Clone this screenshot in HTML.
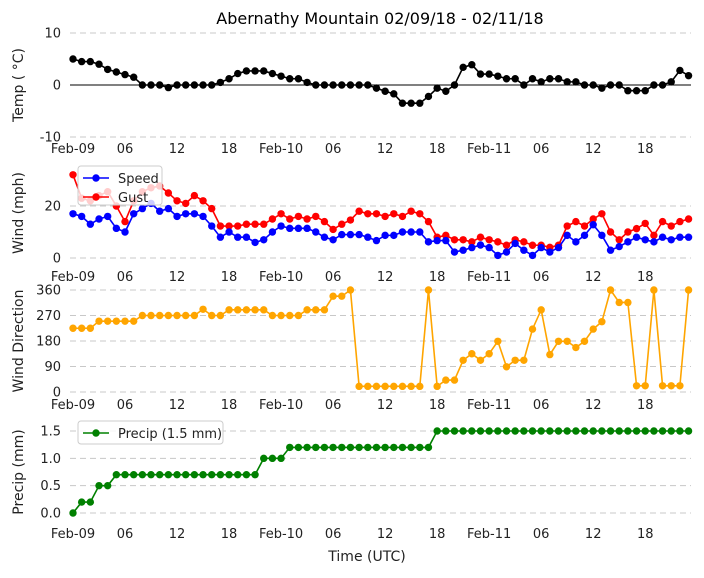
<!DOCTYPE html>
<html><head><meta charset="utf-8"><style>
body{margin:0;background:#fff;font-family:"Liberation Sans","DejaVu Sans",sans-serif;}
svg text{font-family:"DejaVu Sans","Liberation Sans",sans-serif;}
</style></head><body>
<svg id="chart" width="704" height="573" xmlns="http://www.w3.org/2000/svg"></svg>
<script>
const hours = Array.from({length:72},(_,i)=>i);
const xTickHours = [0,6,12,18,24,30,36,42,48,54,60,66];
const xTickLabels = ["Feb-09","06","12","18","Feb-10","06","12","18","Feb-11","06","12","18"];
const tempValues = [5,4.5,4.5,4,3,2.5,2,1.5,0,0,0,-0.5,0,0,0,0,0,0.5,1.2,2.2,2.7,2.7,2.7,2.2,1.7,1.2,1.2,0.5,0,0,0,0,0,0,0,-0.6,-1.2,-1.7,-3.5,-3.5,-3.5,-2.2,-0.6,-1.2,0,3.4,3.9,2.1,2.1,1.7,1.2,1.2,0,1.2,0.6,1.2,1.2,0.6,0.6,0,0,-0.6,0,0,-1.1,-1.1,-1.1,0,0,0.6,2.8,1.8];
const speedValues = [17,16,13,15,16,11.4,10,17,19,21,18,19,16,17,17,16,12.3,8,10,8,8,6,7,10,12.3,11.4,11.4,11.4,10,8,7,9,9,9,8,6.7,8.7,8.7,10,10,10,6.2,6.7,6.7,2.3,3,4,5,4,1,2.3,5.6,3,1,4,2.3,4,8.7,6.2,8.7,12.8,8.7,3,4.4,6.2,8,7,6.2,8,7,8,8];
const gustValues = [32,23,22,24,25.5,20,14,22,25.5,27,27.7,25,22,21,24,22,19,12.3,12.3,12.3,13,13,13,15,17,15,16,15,16,14,11,13,14.6,18,17,17,16,17,16,18,17,14,8,8.7,7,7,6.2,8,7,6.2,4.9,7,6.2,4.9,4.9,4.1,4.9,12.3,14,12.3,15,17,10,7,10,11.3,13.3,8.7,14,12.3,14,15];
const dirValues = [225,225,225,250,250,250,250,250,270,270,270,270,270,270,270,292,270,270,290,290,290,290,290,270,270,270,270,290,290,290,338,338,360,20,20,20,20,20,20,20,20,360,20,42,42,112,135,112,135,179,89,112,112,222,290,132,179,179,157,179,222,248,360,316,316,22,22,360,22,22,22,360];
const precipValues = [0,0.2,0.2,0.5,0.5,0.7,0.7,0.7,0.7,0.7,0.7,0.7,0.7,0.7,0.7,0.7,0.7,0.7,0.7,0.7,0.7,0.7,1.0,1.0,1.0,1.2,1.2,1.2,1.2,1.2,1.2,1.2,1.2,1.2,1.2,1.2,1.2,1.2,1.2,1.2,1.2,1.2,1.5,1.5,1.5,1.5,1.5,1.5,1.5,1.5,1.5,1.5,1.5,1.5,1.5,1.5,1.5,1.5,1.5,1.5,1.5,1.5,1.5,1.5,1.5,1.5,1.5,1.5,1.5,1.5,1.5,1.5];
const tempTicks=[-10,0,10], windTicks=[0,20], dirTicks=[0,90,180,270,360], precipTicks=[0,0.5,1,1.5];
const precipTickLabels=["0.0","0.5","1.0","1.5"];

const svg=document.getElementById('chart');
const NS="http://www.w3.org/2000/svg";
function mk(tag,attrs,parent){const e=document.createElementNS(NS,tag);for(const k in attrs)e.setAttribute(k,attrs[k]);(parent||svg).appendChild(e);return e;}
const X=h=>73+h*8.67;
const X0=70,X1=691;

const panels=[
 {name:'temp',v0:-10,y0:137,v1:10,y1:33,ticks:tempTicks,labels:null,label:'Temp ( $^{\\circ}$C)',disp:'Temp ( °C)',xlab:153,grid:[10,-10],zero:true},
 {name:'wind',v0:0,y0:258,v1:20,y1:206,ticks:windTicks,labels:null,disp:'Wind (mph)',xlab:281,grid:[0,20]},
 {name:'direction',v0:0,y0:392,v1:360,y1:290,ticks:dirTicks,labels:null,disp:'Wind Direction',xlab:409,grid:dirTicks},
 {name:'precip',v0:0,y0:513,v1:1.5,y1:431,ticks:precipTicks,labels:precipTickLabels,disp:'Precip (mm)',xlab:538,grid:precipTicks}
];
panels.forEach(p=>{
 p.Y=v=>p.y0+(v-p.v0)*(p.y1-p.y0)/(p.v1-p.v0);
 const g=mk('g',{});
 
 
 p.grid.forEach(v=>{const l=mk('line',{x1:X0,x2:X1,y1:p.Y(v),y2:p.Y(v),stroke:'#c8c8c8','stroke-dasharray':'6,4','stroke-width':1},g);
  });
 if(p.zero){const l=mk('line',{x1:X0,x2:X1,y1:p.Y(0),y2:p.Y(0),stroke:'#000','stroke-width':1},g);
  }
 p.ticks.forEach((v,i)=>{const t=mk('text',{x:61,y:p.Y(v)+4.5,'text-anchor':'end','font-size':13,fill:'#222'},g);
  t.textContent=p.labels?p.labels[i]:String(v);
  });
 xTickHours.forEach((h,i)=>{const t=mk('text',{x:X(h),y:p.xlab,'text-anchor':'middle','font-size':13,fill:'#222'},g);
  t.textContent=xTickLabels[i];
  });
 const cy=(p.y0+p.y1)/2+(p.name==='wind'?-20:(p.name==='temp'?0:0));
 const yl=mk('text',{x:0,y:0,transform:`translate(23,${p.name==='wind'?213:p.name==='direction'?341:p.name==='precip'?472:85}) rotate(-90)`,'text-anchor':'middle','font-size':14,fill:'#222'},g);
 yl.textContent=p.disp;
 
});
function series(p,vals,color,name){
 const g=mk('g',{});
 
 
 mk('polyline',{points:vals.map((v,i)=>X(hours[i])+','+p.Y(v)).join(' '),fill:'none',stroke:color,'stroke-width':1.6},g);
 vals.forEach((v,i)=>{const c=mk('circle',{cx:X(hours[i]),cy:p.Y(v),r:3.7,fill:color},g);
  });
}
series(panels[0],tempValues,'#000','temp');
series(panels[1],gustValues,'#ff0000','gust');
series(panels[1],speedValues,'#0000ff','speed');
series(panels[2],dirValues,'#ffa500','direction');
series(panels[3],precipValues,'#008000','precip');

function legend(x,y,w,h,entries,name){
 const g=mk('g',{});
 
 
 mk('rect',{x:x,y:y,width:w,height:h,rx:3,fill:'rgba(255,255,255,0.8)',stroke:'#ccc'},g);
 entries.forEach((e,i)=>{const yy=y+12+i*19;
  mk('line',{x1:x+5,x2:x+31,y1:yy,y2:yy,stroke:e[1],'stroke-width':1.6},g);
  mk('circle',{cx:x+18,cy:yy,r:3.7,fill:e[1]},g);
  const t=mk('text',{x:x+40,y:yy+5,'font-size':13,fill:'#222'},g);t.textContent=e[0];
  });
}
legend(78,166,84,39,[['Speed','#0000ff'],['Gust','#ff0000']],'wind-legend');
legend(78,421,145,23,[['Precip (1.5 mm)','#008000']],'precip-legend');

const title=mk('text',{x:380,y:24,'text-anchor':'middle','font-size':16,fill:'#000'});
title.textContent='Abernathy Mountain 02/09/18 - 02/11/18';

const xt=mk('text',{x:367,y:561,'text-anchor':'middle','font-size':14,fill:'#222'});
xt.textContent='Time (UTC)';

</script>
</body></html>
